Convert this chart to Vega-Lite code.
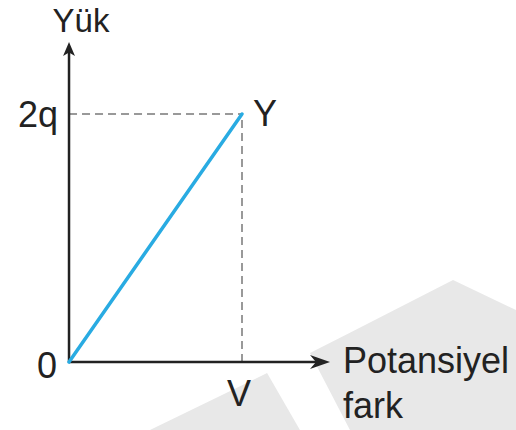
{
  "$schema": "https://vega.github.io/schema/vega-lite/v6.json",
  "width": 516,
  "height": 430,
  "padding": 0,
  "autosize": {"type": "fit", "contains": "padding"},
  "background": "white",
  "view": {"stroke": null},
  "config": {"text": {"font": "Liberation Sans", "fontSize": 36, "color": "#222222", "baseline": "alphabetic"}},
  "layer": [
    {
      "data": {"values": [
        {"shape": "A", "x": 1.393, "top": 0.073, "bottom": 0.073},
        {"shape": "A", "x": 1.624, "top": 0.237, "bottom": -0.548},
        {"shape": "A", "x": 2.22, "top": 0.661, "bottom": -0.548},
        {"shape": "A", "x": 2.584, "top": 0.419, "bottom": -0.548},
        {"shape": "B", "x": 0.468, "top": -0.548, "bottom": -0.548},
        {"shape": "B", "x": 1.145, "top": -0.089, "bottom": -0.548},
        {"shape": "B", "x": 1.335, "top": -0.548, "bottom": -0.548}
      ]},
      "mark": {"type": "area", "color": "#e8e8e8", "opacity": 1},
      "encoding": {
        "x": {"field": "x", "type": "quantitative", "scale": {"domain": [-0.399, 2.584], "nice": false, "zero": false}, "axis": null},
        "y": {"field": "top", "type": "quantitative", "scale": {"domain": [-0.548, 2.919], "nice": false, "zero": false}, "axis": null},
        "y2": {"field": "bottom"},
        "detail": {"field": "shape"}
      }
    },
    {
      "data": {"values": [
        {"x": 0, "x2": 1, "y": 2, "y2": 2},
        {"x": 1, "x2": 1, "y": 0, "y2": 2}
      ]},
      "mark": {"type": "rule", "color": "#999999", "strokeWidth": 2, "strokeDash": [8, 5]},
      "encoding": {
        "x": {"field": "x", "type": "quantitative", "scale": {"domain": [-0.399, 2.584], "nice": false, "zero": false}, "axis": null},
        "x2": {"field": "x2"},
        "y": {"field": "y", "type": "quantitative", "scale": {"domain": [-0.548, 2.919], "nice": false, "zero": false}, "axis": null},
        "y2": {"field": "y2"}
      }
    },
    {
      "data": {"values": [
        {"x": 0, "x2": 1.44, "y": 0, "y2": 0},
        {"x": 0, "x2": 0, "y": 0, "y2": 2.5}
      ]},
      "mark": {"type": "rule", "color": "#222222", "strokeWidth": 2.5},
      "encoding": {
        "x": {"field": "x", "type": "quantitative", "scale": {"domain": [-0.399, 2.584], "nice": false, "zero": false}, "axis": null},
        "x2": {"field": "x2"},
        "y": {"field": "y", "type": "quantitative", "scale": {"domain": [-0.548, 2.919], "nice": false, "zero": false}, "axis": null},
        "y2": {"field": "y2"}
      }
    },
    {
      "data": {"values": [{"x": 0, "y": 2.524}]},
      "mark": {"type": "point", "shape": "M0,-1 L0.85,1 L0,0.5 L-0.85,1 Z", "size": 196, "filled": true, "color": "#222222", "opacity": 1},
      "encoding": {
        "x": {"field": "x", "type": "quantitative", "scale": {"domain": [-0.399, 2.584], "nice": false, "zero": false}, "axis": null},
        "y": {"field": "y", "type": "quantitative", "scale": {"domain": [-0.548, 2.919], "nice": false, "zero": false}, "axis": null}
      }
    },
    {
      "data": {"values": [{"x": 1.451, "y": 0}]},
      "mark": {"type": "point", "shape": "M1,0 L-1,-0.7 L-0.4,0 L-1,0.7 Z", "size": 400, "filled": true, "color": "#222222", "opacity": 1},
      "encoding": {
        "x": {"field": "x", "type": "quantitative", "scale": {"domain": [-0.399, 2.584], "nice": false, "zero": false}, "axis": null},
        "y": {"field": "y", "type": "quantitative", "scale": {"domain": [-0.548, 2.919], "nice": false, "zero": false}, "axis": null}
      }
    },
    {
      "data": {"values": [{"x": 0, "y": 0}, {"x": 1, "y": 2}]},
      "mark": {"type": "line", "color": "#29abe2", "strokeWidth": 3.5, "strokeCap": "round"},
      "encoding": {
        "x": {"field": "x", "type": "quantitative", "scale": {"domain": [-0.399, 2.584], "nice": false, "zero": false}, "axis": null},
        "y": {"field": "y", "type": "quantitative", "scale": {"domain": [-0.548, 2.919], "nice": false, "zero": false}, "axis": null}
      }
    },
    {
      "data": {"values": [
        {"label": "2q", "x": -0.064, "y": 1.895},
        {"label": "0", "x": -0.069, "y": -0.129}
      ]},
      "mark": {"type": "text", "align": "right"},
      "encoding": {
        "x": {"field": "x", "type": "quantitative", "scale": {"domain": [-0.399, 2.584], "nice": false, "zero": false}, "axis": null},
        "y": {"field": "y", "type": "quantitative", "scale": {"domain": [-0.548, 2.919], "nice": false, "zero": false}, "axis": null},
        "text": {"field": "label"}
      }
    },
    {
      "data": {"values": [
        {"label": "Yük", "x": 0.069, "y": 2.661}
      ]},
      "mark": {"type": "text", "align": "center", "fontSize": 33},
      "encoding": {
        "x": {"field": "x", "type": "quantitative", "scale": {"domain": [-0.399, 2.584], "nice": false, "zero": false}, "axis": null},
        "y": {"field": "y", "type": "quantitative", "scale": {"domain": [-0.548, 2.919], "nice": false, "zero": false}, "axis": null},
        "text": {"field": "label"}
      }
    },
    {
      "data": {"values": [
        {"label": "V", "x": 0.983, "y": -0.355}
      ]},
      "mark": {"type": "text", "align": "center"},
      "encoding": {
        "x": {"field": "x", "type": "quantitative", "scale": {"domain": [-0.399, 2.584], "nice": false, "zero": false}, "axis": null},
        "y": {"field": "y", "type": "quantitative", "scale": {"domain": [-0.548, 2.919], "nice": false, "zero": false}, "axis": null},
        "text": {"field": "label"}
      }
    },
    {
      "data": {"values": [
        {"label": "Y", "x": 1.064, "y": 1.903},
        {"label": "Potansiyel", "x": 1.584, "y": -0.089},
        {"label": "fark", "x": 1.584, "y": -0.452}
      ]},
      "mark": {"type": "text", "align": "left"},
      "encoding": {
        "x": {"field": "x", "type": "quantitative", "scale": {"domain": [-0.399, 2.584], "nice": false, "zero": false}, "axis": null},
        "y": {"field": "y", "type": "quantitative", "scale": {"domain": [-0.548, 2.919], "nice": false, "zero": false}, "axis": null},
        "text": {"field": "label"}
      }
    }
  ]
}
